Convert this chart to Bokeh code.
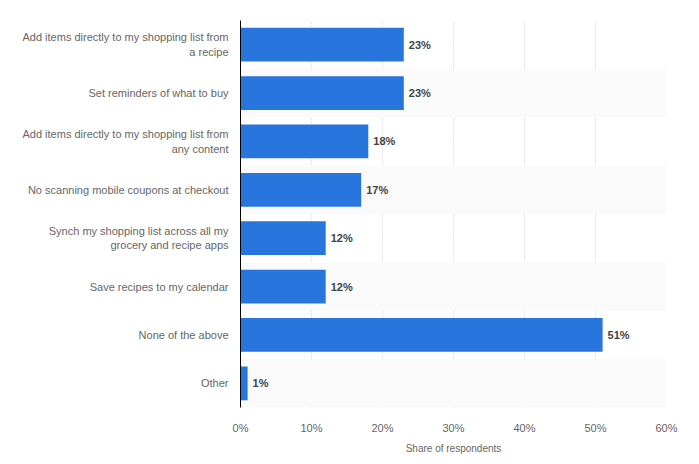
from bokeh.plotting import figure
from bokeh.models import FactorRange, ColumnDataSource, FixedTicker, CustomJSTickFormatter
from bokeh.core.properties import value
from bokeh.embed import file_html
from bokeh.resources import INLINE

categories = [
    "Add items directly to my shopping list from\na recipe",
    "Set reminders of what to buy",
    "Add items directly to my shopping list from\nany content",
    "No scanning mobile coupons at checkout",
    "Synch my shopping list across all my\ngrocery and recipe apps",
    "Save recipes to my calendar",
    "None of the above",
    "Other",
]
shares = [23, 23, 18, 17, 12, 12, 51, 1]
x_ticks = [0, 10, 20, 30, 40, 50, 60]

FONT = "Liberation Sans"

p = figure(
    width=691, height=456,
    y_range=FactorRange(factors=categories[::-1]),
    x_range=(0, 60),
    output_backend="svg", toolbar_location=None,
    min_border_left=240, min_border_right=25, min_border_top=20, min_border_bottom=46,
)
p.outline_line_color = None
p.background_fill_color = "white"

# alternating bands
band_cats = [c for i, c in enumerate(categories) if i % 2 == 1]
p.hbar(y=band_cats, left=0, right=60, height=1.0, fill_color="#fafafa", line_color=None)

src = ColumnDataSource(dict(cat=categories, share=shares,
                            label=[f"{v}%" for v in shares]))
p.hbar(y="cat", right="share", left=0, height=0.7, source=src,
       fill_color="#2875dd", line_color=None)
p.text(x="share", y="cat", text="label", source=src, x_offset=5,
       text_align="left", text_baseline="middle", text_font=value(FONT),
       text_font_size="11px", text_font_style="bold", text_color="#444444")

# grid
p.ygrid.grid_line_color = None
p.xgrid.ticker = FixedTicker(ticks=x_ticks[1:])
p.xgrid.grid_line_color = "#c8c8c8"
p.xgrid.grid_line_dash = "1 2"

# x axis
p.xaxis.ticker = FixedTicker(ticks=x_ticks)
p.xaxis.formatter = CustomJSTickFormatter(code="return tick + '%';")
p.xaxis.axis_line_color = None
p.xaxis.major_tick_line_color = None
p.xaxis.minor_tick_line_color = None
p.xaxis.major_label_text_font = FONT
p.xaxis.major_label_text_font_size = "11px"
p.xaxis.major_label_text_color = "#666666"
p.xaxis.major_label_standoff = 8
p.xaxis.axis_label = "Share of respondents"
p.xaxis.axis_label_text_font = FONT
p.xaxis.axis_label_text_font_size = "10px"
p.xaxis.axis_label_text_font_style = "normal"
p.xaxis.axis_label_text_color = "#666666"
p.xaxis.axis_label_standoff = 6

# y axis
p.yaxis.axis_line_color = "#000000"
p.yaxis.axis_line_width = 1
p.yaxis.major_tick_line_color = None
p.yaxis.minor_tick_line_color = None
p.yaxis.major_label_text_font = FONT
p.yaxis.major_label_text_font_size = "11px"
p.yaxis.major_label_text_color = "#666666"
p.yaxis.major_label_standoff = 6

open("out.html", "w").write(file_html(p, INLINE))
